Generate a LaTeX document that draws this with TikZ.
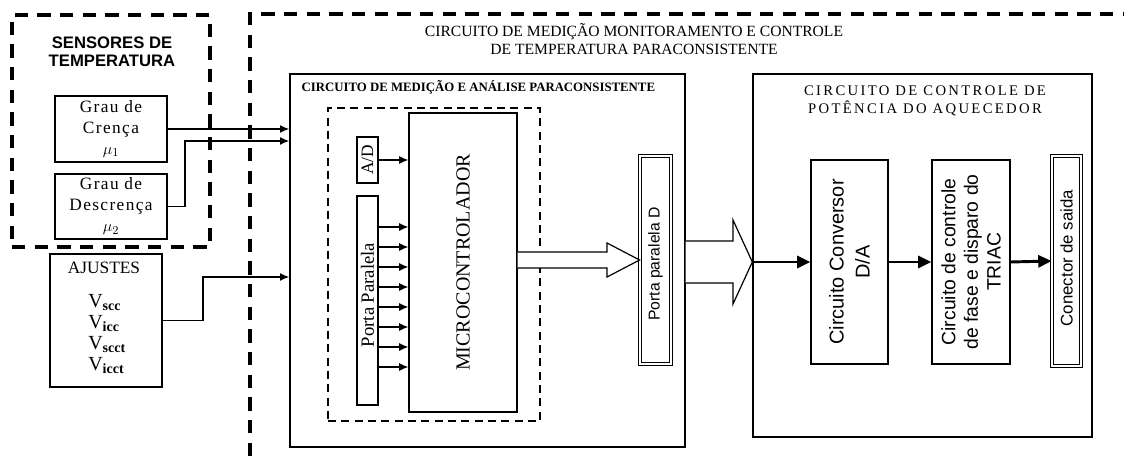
\documentclass[tikz,border=0pt]{standalone}
\usepackage{fontspec}
\setmainfont{Liberation Serif}
\setsansfont{Liberation Sans}
\usetikzlibrary{arrows.meta,fit,positioning}

\begin{document}
\begin{tikzpicture}[x=0.75pt,y=-0.75pt,
  box/.style={draw,line width=1pt,inner sep=0pt},
  dblbox/.style={draw,double,double distance=1.6pt,line width=0.6pt,inner sep=0pt},
  heavydash/.style={draw,line width=2.5pt,dash pattern=on 10pt off 7pt},
  lightdash/.style={draw,line width=1.1pt,dash pattern=on 6pt off 4pt,inner sep=0pt},
  sig/.style={-{Latex[length=7pt,width=6pt]},line width=1.1pt},
  bigarr/.style={-{Triangle[length=10pt,width=9pt]},line width=2.2pt},
  hollow/.style={draw,line width=0.9pt,fill=white}
]
\useasboundingbox (0,0) rectangle (1127,466);

\node[heavydash,inner sep=0pt,fit={(12,15) (210,247)}] (sensores) {};
\node[font=\sffamily\bfseries\fontsize{12.5}{13.5}\selectfont,align=center] (sensTitle) at (112,52) {SENSORES DE\\TEMPERATURA};
\node[box,fit={(55,96) (167,162)}] (crenca) {};
\node[box,fit={(55,174) (167,239)}] (descrenca) {};
\node[font=\fontsize{13}{15.75}\selectfont\addfontfeature{LetterSpace=8},align=center] (crencaTxt) at (crenca.center) {Grau de\\Crença\\{\fontsize{12.5}{13}\selectfont$\mu_1$}};
\node[font=\fontsize{13}{15.75}\selectfont\addfontfeature{LetterSpace=8},align=center] (descrencaTxt) at (descrenca.center) {Grau de\\Descrença\\{\fontsize{12.5}{13}\selectfont$\mu_2$}};
\node[box,fit={(50,254) (162,387)}] (ajustes) {};
\node[font=\fontsize{13}{14}\selectfont] (ajustesTxt) at (104,268) {AJUSTES};
\node[font=\fontsize{15}{15.75}\selectfont,align=left,anchor=west,inner sep=0pt] (vTxt) at (88,334) {V\textsubscript{\textbf{scc}}\\V\textsubscript{\textbf{icc}}\\V\textsubscript{\textbf{scct}}\\V\textsubscript{\textbf{icct}}};

\coordinate (frameSW) at (250,456);
\coordinate (frameNW) at (250,14);
\coordinate (frameNE) at (1124,14);
\draw[heavydash] (frameSW) -- (frameNW) -- (frameNE);
\node[font=\fontsize{11.7}{13.5}\selectfont,align=center] (mainTitle) at (634,39) {CIRCUITO DE MEDIÇÃO MONITORAMENTO E CONTROLE\\DE TEMPERATURA PARACONSISTENTE};

\node[box,fit={(290,74) (685,447)}] (medicao) {};
\node[font=\bfseries\fontsize{9.6}{11}\selectfont,anchor=west] (medTitle) at (297,87) {CIRCUITO DE MEDIÇÃO E ANÁLISE PARACONSISTENTE};
\node[lightdash,fit={(328,108) (540,421)}] (mcu) {};
\node[box,line width=0.8pt,fit={(409,113) (517,412)}] (micro) {};
\node[font=\fontsize{15}{17}\selectfont,rotate=90] (microTxt) at (micro.center) {MICROCONTROLADOR};
\node[box,line width=0.8pt,fit={(357,137) (378,183)}] (ad) {};
\node[font=\fontsize{13}{15}\selectfont,rotate=90] (adTxt) at (ad.center) {A/D};
\node[box,line width=0.8pt,fit={(357,196) (378,405)}] (porta) {};
\node[font=\fontsize{14}{16}\selectfont,rotate=90] (portaTxt) at (367.5,295) {Porta Paralela};
\node[dblbox,fit={(640,156) (671,364)}] (portaD) {};
\node[font=\sffamily\fontsize{11.8}{13}\selectfont,rotate=90] (portaDTxt) at (655.5,264) {Porta paralela D};

\node[box,fit={(753,74) (1092,437)}] (potencia) {};
\node[font=\fontsize{11}{13.5}\selectfont\addfontfeature{LetterSpace=16},align=center] (potTitle) at (925,101) {CIRCUITO DE CONTROLE DE\\POTÊNCIA DO AQUECEDOR};
\node[box,line width=0.8pt,fit={(811,160) (888,364)}] (dac) {};
\node[font=\sffamily\fontsize{15}{19.5}\selectfont,rotate=90,align=center] (dacTxt) at (dac.center) {Circuito Conversor\\D/A};
\node[box,line width=0.8pt,fit={(932,160) (1010,364)}] (triac) {};
\node[font=\sffamily\fontsize{14.5}{17}\selectfont,rotate=90,align=center] (triacTxt) at (triac.center) {Circuito de controle\\de fase e disparo do\\TRIAC};
\node[dblbox,fit={(1052,156) (1081,366)}] (conector) {};
\node[font=\sffamily\fontsize{12.6}{14}\selectfont,rotate=90] (conectorTxt) at (1066.5,258) {Conector de saida};

\coordinate (bendD) at (185,141);
\coordinate (bendA) at (203,277);
\draw[sig] (crenca.east) -- (crenca.east -| medicao.west);
\draw[sig] (descrenca.east) -- (descrenca.east -| bendD) -- (bendD) -- (bendD -| medicao.west);
\draw[sig] (ajustes.east) -- (ajustes.east -| bendA) -- (bendA) -- (bendA -| medicao.west);
\draw[sig] (ad.east) -- (ad.east -| micro.west);
\foreach \yy in {227,247,...,367}
  \draw[sig] (porta.east |- 0,\yy) -- (micro.west |- 0,\yy);

\draw[hollow] (micro.east |- 0,252) -| (607,243) -- (portaD.west |- 0,260) -- (607,277) |- (micro.east |- 0,268);
\draw[hollow] (medicao.east |- 0,241) -| (733,220) -- (potencia.west |- 0,262) -- (733,304) |- (medicao.east |- 0,283);

\draw[bigarr] (potencia.west |- dac.west) -- (dac.west);
\draw[bigarr] (dac.east) -- (triac.west);
\draw[bigarr] (triac.east) -- (conector.west);
\end{tikzpicture}
\end{document}
